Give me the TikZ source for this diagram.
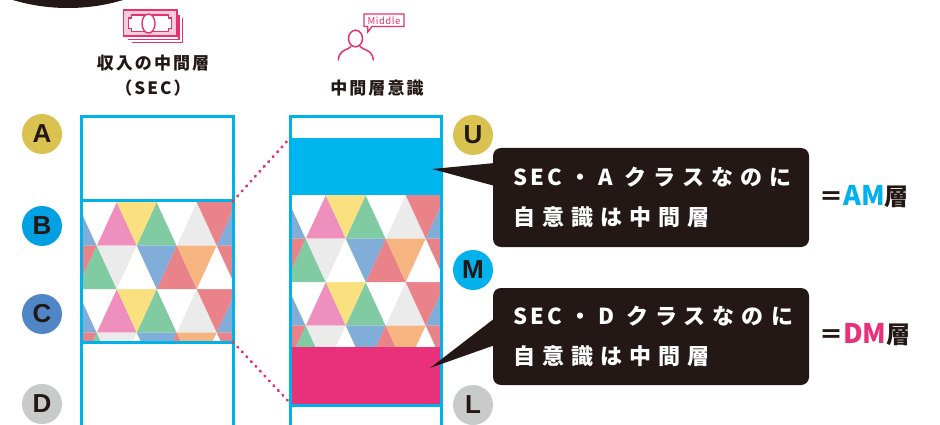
\documentclass[tikz,border=0pt]{standalone}
\usepackage{fontspec}
\usepackage{xcolor}
\setmainfont{Noto Sans CJK JP}
\newfontfamily\latin{Liberation Sans}

\definecolor{ink}{HTML}{231815}
\definecolor{colline}{HTML}{00B2E7}
\definecolor{rose}{HTML}{E6336F}
\definecolor{gold}{HTML}{D9C24F}
\definecolor{bblue}{HTML}{00A0E3}
\definecolor{cblue}{HTML}{4E86C6}
\definecolor{lgrey}{HTML}{C9CACA}
\definecolor{mcyan}{HTML}{00B1EB}
\definecolor{upperfill}{HTML}{00B6EE}
\definecolor{lowerfill}{HTML}{E8317A}
% triangle tiles
\definecolor{tPink}{HTML}{EF8FBD}
\definecolor{tYellow}{HTML}{FBE07F}
\definecolor{tGreen}{HTML}{80CBA1}
\definecolor{tGray}{HTML}{EAEBEA}
\definecolor{tBlue}{HTML}{80AED8}
\definecolor{tRed}{HTML}{EA828A}
\definecolor{tOrange}{HTML}{F5B480}

\tikzset{
  dot/.style = {circle, fill, minimum size=#1, inner sep=0pt, outer sep=0pt,
                text=ink, font=\latin\bfseries\fontsize{26}{26}\selectfont},
  dot/.default = 40pt,
  title/.style = {inner sep=0pt, text=ink,
                  font=\bfseries\fontsize{17}{17}\selectfont\addfontfeature{LetterSpace=12}},
  callout/.style = {fill=ink, rounded corners=8pt, minimum width=316pt,
                    text width=276pt, align=left, inner sep=0pt, text=white,
                    font=\bfseries\fontsize{22}{40}\selectfont\addfontfeature{LetterSpace=32}},
  colline/.style = {draw=colline, line width=3pt},
  dotline/.style = {rose, line width=2.8pt, line cap=round, dash pattern=on 0.8pt off 5.8pt}
}

% tighter tracking for latin letters inside a callout
\newcommand\secword{{\addfontfeature{LetterSpace=15}SEC}}

% triangle pattern: #1,#2 top left corner, #3 width, #4 height
\newcommand\tiles[4]{%
  \begin{scope}
    \clip (#1,#2) rectangle ++(#3,#4);
    \begin{scope}[shift={(#1,#2)}]
      \foreach \r in {0,2} {
        \foreach \a/\c in {-4.3/tBlue, 35.7/tPink, 75.7/tGreen, 115.7/tGray, 155.7/tBlue}
          \fill[\c] (\a,\r*\th) -- (\a-\tw,\r*\th+\th) -- (\a+\tw,\r*\th+\th) -- cycle;
        \foreach \a/\c in {15.7/white, 55.7/tYellow, 95.7/white, 135.7/tRed}
          \fill[\c] (\a-\tw,\r*\th) -- (\a+\tw,\r*\th) -- (\a,\r*\th+\th) -- cycle;
      }
      \foreach \r in {1,3} {
        \foreach \a/\c in {15.7/tGreen, 55.7/white, 95.7/tRed, 135.7/white}
          \fill[\c] (\a,\r*\th) -- (\a-\tw,\r*\th+\th) -- (\a+\tw,\r*\th+\th) -- cycle;
        \foreach \a/\c in {-4.3/tRed, 35.7/tGray, 75.7/tBlue, 115.7/tOrange, 155.7/tRed}
          \fill[\c] (\a-\tw,\r*\th) -- (\a+\tw,\r*\th) -- (\a,\r*\th+\th) -- cycle;
      }
    \end{scope}
  \end{scope}}

\begin{document}
\begin{tikzpicture}[x=1pt,y=-1pt]
	\def\tw{20}   % half base of a tile
	\def\th{43.5} % tile row height

	\useasboundingbox (0,0) rectangle (940,425);
	\fill[white] (0,0) rectangle (940,425);

	% Header blob
	\fill[ink] (68,-185) circle (193pt);

	% Money icon
	\draw[rose, line width=1.3pt] (128.3,39.3) -- (179,39.3) -- (179,15);
	\draw[rose, line width=1.3pt] (131.7,42.7) -- (182.3,42.7) -- (182.3,18.3);
	\filldraw[fill=rose!25, draw=rose, line width=1.6pt] (123.3,10) rectangle (176.7,36);
	\filldraw[fill=white, draw=rose, line width=1.1pt] (131.3,15) -- (168.7,15) -- (168.7,18) -- (171.7,18)
		-- (171.7,28.7) -- (168.7,28.7) -- (168.7,31.7) -- (131.3,31.7) -- (131.3,28.7)
		-- (128.3,28.7) -- (128.3,18) -- (131.3,18) -- cycle;
	\filldraw[fill=white, draw=rose, line width=1.4pt] (148.5,23.5) ellipse [x radius=6.5pt, y radius=9.5pt];

	% Person icon
	\draw[rose, line width=1.5pt] (355.5,38.5) ellipse [x radius=7pt, y radius=8.3pt];
	\draw[rose, line width=1.5pt, line cap=round] (351,46.4) .. controls (349,50) and (339,49) .. (338.3,60);
	\draw[rose, line width=1.5pt, line cap=round] (360,46.4) .. controls (362,50) and (372.5,49) .. (373.3,60);
	\filldraw[fill=white, draw=rose, line width=1.4pt, line join=miter] (364,14) -- (404,14) -- (404,26.5)
		-- (372,26.5) -- (367.7,32) -- (367.7,26.5) -- (364,26.5) -- cycle;
	\node[inner sep=0pt, text=rose, font=\fontsize{9.5}{9.5}\selectfont\addfontfeature{LetterSpace=6}] (mid) at (384,20.3) {Middle};

	% Column titles
	\node[title] (secttl) at (153,63) {収入の中間層};
	\node[title] (secsub) at (153,88) {（SEC）};
	\node[title] (awttl) at (377,88) {中間層意識};

	% SEC column
	\tiles{81}{202}{152}{140}
	\draw[colline] (81,117) rectangle (233,440);
	\draw[colline] (81,200.5) -- (233,200.5);
	\draw[colline] (81,342) -- (233,342);

	% Awareness column
	\fill[upperfill] (290,138) rectangle (441,195);
	\tiles{290}{195}{151}{152}
	\fill[lowerfill] (290,347) rectangle (441,404);
	\draw[colline] (290,117) rectangle (441,440);
	\draw[colline] (290,405) -- (441,405);

	% Zoom lines
	\coordinate (secB) at (233,201);
	\coordinate (secC) at (233,342);
	\coordinate (awU) at (290,138);
	\coordinate (awL) at (290,403);
	\draw[dotline] (secB) -- (awU);
	\draw[dotline] (secC) -- (awL);

	% Class badges
	\node[dot, fill=gold] (A) at (42,134) {A};
	\node[dot, fill=bblue] (B) at (42,226) {B};
	\node[dot, fill=cblue] (C) at (42,314) {C};
	\node[dot, fill=lgrey] (D) at (42,404) {D};
	\node[dot, fill=gold] (U) at (473,135) {U};
	\node[dot, fill=mcyan] (M) at (473,270) {M};
	\node[dot, fill=lgrey] (L) at (473,405) {L};

	% Callouts
	\fill[ink] (495,163) -- (432,169) -- (495,186) -- cycle;
	\node[callout, minimum height=99pt] (amcall) at (651,197.5) {\secword\hspace{7pt}・A\hspace{12pt}クラスなのに\\自意識は中間層};
	\fill[ink] (495,318) -- (430,368) -- (495,345) -- cycle;
	\node[callout, minimum height=97pt] (dmcall) at (651,336.5) {\secword\hspace{7pt}・D\hspace{12pt}クラスなのに\\自意識は中間層};

	% Tags
	\node[anchor=west, inner sep=0pt, text=ink, font=\bfseries\fontsize{24}{24}\selectfont] (amtag) at (819,197)
		{＝{\color{mcyan}\fontsize{27}{27}\selectfont AM}層};
	\node[anchor=west, inner sep=0pt, text=ink, font=\bfseries\fontsize{24}{24}\selectfont] (dmtag) at (819,335)
		{＝{\color{lowerfill}\fontsize{27}{27}\selectfont DM}層};
\end{tikzpicture}
\end{document}
